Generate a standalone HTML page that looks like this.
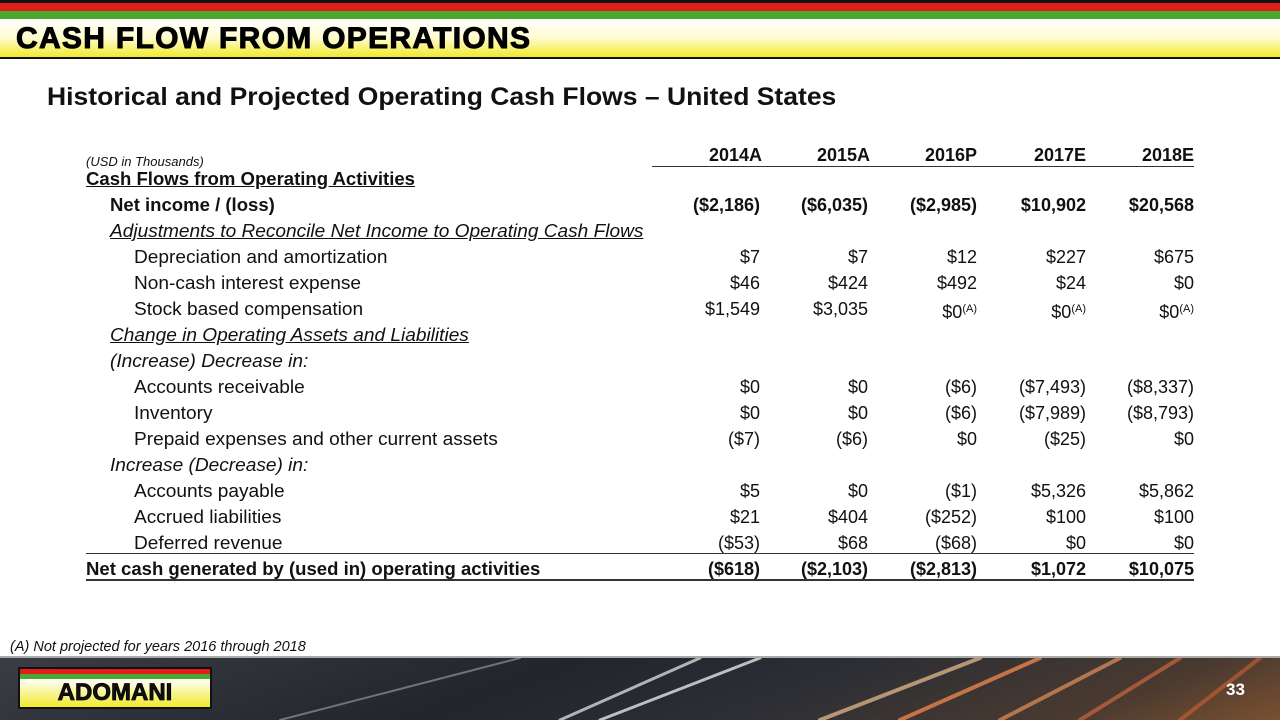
<!DOCTYPE html>
<html><head><style>
body{margin:0;width:1280px;height:720px;position:relative;overflow:hidden;background:#fff;font-family:"Liberation Sans",sans-serif;}
.a{position:absolute}
.t{position:absolute;font-size:18px;color:#111;white-space:nowrap;line-height:22px;transform-origin:left;}
.n{position:absolute;font-size:18px;color:#111;white-space:nowrap;line-height:22px;text-align:right;width:140px}
.b{font-weight:bold}
sup{font-size:11px;vertical-align:6px}
</style></head><body>
<div class="a" style="left:0;top:0;width:1280px;height:3px;background:#111"></div>
<div class="a" style="left:0;top:3px;width:1280px;height:8px;background:#e01f1c"></div>
<div class="a" style="left:0;top:11px;width:1280px;height:8px;background:#4aa82f"></div>
<div class="a" style="left:0;top:19px;width:1280px;height:38px;background:linear-gradient(#fff,#fffbd0 50%,#f2ea2a)"></div>
<div class="a" style="left:0;top:57px;width:1280px;height:2px;background:#111"></div>
<div class="a" style="left:16px;top:22px;font-size:30px;font-weight:900;letter-spacing:1.3px;-webkit-text-stroke:1px #000;color:#000">CASH FLOW FROM OPERATIONS</div>
<div class="a" style="left:47px;top:83px;font-size:25px;font-weight:bold;color:#111;transform:scaleX(1.06);transform-origin:left">Historical and Projected Operating Cash Flows – United States</div>
<div class="t" style="left:86px;top:151px;font-size:13px;font-style:italic">(USD in Thousands)</div>
<div class="a" style="left:652px;top:166px;width:542px;height:1px;background:#333"></div>
<div class="n b" style="left:622px;top:144px">2014A</div>
<div class="n b" style="left:730px;top:144px">2015A</div>
<div class="n b" style="left:837px;top:144px">2016P</div>
<div class="n b" style="left:946px;top:144px">2017E</div>
<div class="n b" style="left:1054px;top:144px">2018E</div>
<div id="rows"></div>
<div class="a" style="left:86px;top:553px;width:1108px;height:1px;background:#333"></div>
<div class="a" style="left:86px;top:579px;width:1108px;height:2px;background:#333"></div>
<div class="t" style="left:10px;top:636px;font-size:14.5px;font-style:italic">(A) Not projected for years 2016 through 2018</div>
<div class="a" style="left:0;top:656px;width:1280px;height:2px;background:#aaa"></div>
<div class="a" style="left:0;top:658px;width:1280px;height:62px;background:linear-gradient(160deg,#3a3d44,#22252b 40%,#2b2e35 60%,#4a3a30 85%,#7a5030)"></div>
<svg class="a" style="left:0;top:658px" width="1280" height="62"><g stroke-linecap="round" fill="none">
<path d="M280 62 L520 0" stroke="#bbb" stroke-width="2" opacity=".5"/>
<path d="M560 62 L700 0" stroke="#eee" stroke-width="3" opacity=".7"/>
<path d="M600 62 L760 0" stroke="#fff" stroke-width="3" opacity=".7"/>
<path d="M820 62 L980 0" stroke="#f0c090" stroke-width="4" opacity=".7"/>
<path d="M900 62 L1040 0" stroke="#ff9050" stroke-width="4" opacity=".7"/>
<path d="M1000 62 L1120 0" stroke="#ffa060" stroke-width="4" opacity=".6"/>
<path d="M1080 62 L1180 0" stroke="#e07040" stroke-width="4" opacity=".6"/>
<path d="M1180 62 L1260 0" stroke="#d06030" stroke-width="4" opacity=".6"/></g></svg>
<div class="a" style="left:18px;top:667px;width:194px;height:42px;background:#111"></div>
<div class="a" style="left:20px;top:669px;width:190px;height:5px;background:#e01f1c"></div>
<div class="a" style="left:20px;top:674px;width:190px;height:5px;background:#4aa82f"></div>
<div class="a" style="left:20px;top:679px;width:190px;height:28px;background:linear-gradient(#fff,#f2ea2a);text-align:center;font-weight:900;font-size:24px;line-height:28px;color:#111;-webkit-text-stroke:.8px #000">ADOMANI</div>
<div class="a" style="left:1226px;top:680px;font-size:17px;font-weight:bold;color:#fff">33</div>
<script>
var R=[
[180,86,"Cash Flows from Operating Activities","bu"],
[206,110,"Net income / (loss)","b",["($2,186)","($6,035)","($2,985)","$10,902","$20,568"]],
[232,110,"Adjustments to Reconcile Net Income to Operating Cash Flows","iu"],
[258,134,"Depreciation and amortization","",["$7","$7","$12","$227","$675"]],
[284,134,"Non-cash interest expense","",["$46","$424","$492","$24","$0"]],
[310,134,"Stock based compensation","",["$1,549","$3,035","$0<sup>(A)</sup>","$0<sup>(A)</sup>","$0<sup>(A)</sup>"]],
[336,110,"Change in Operating Assets and Liabilities","iu"],
[362,110,"(Increase) Decrease in:","i"],
[388,134,"Accounts receivable","",["$0","$0","($6)","($7,493)","($8,337)"]],
[414,134,"Inventory","",["$0","$0","($6)","($7,989)","($8,793)"]],
[440,134,"Prepaid expenses and other current assets","",["($7)","($6)","$0","($25)","$0"]],
[466,110,"Increase (Decrease) in:","i"],
[492,134,"Accounts payable","",["$5","$0","($1)","$5,326","$5,862"]],
[518,134,"Accrued liabilities","",["$21","$404","($252)","$100","$100"]],
[544,134,"Deferred revenue","",["($53)","$68","($68)","$0","$0"]],
[570,86,"Net cash generated by (used in) operating activities","b",["($618)","($2,103)","($2,813)","$1,072","$10,075"]]];
var X=[760,868,977,1086,1194],h="";
R.forEach(function(r){var y=r[0]-12,s="",sc=1.06;
if(r[3].indexOf("b")>=0){s+="font-weight:bold;";sc=1.03;}if(r[3].indexOf("i")>=0)s+="font-style:italic;";if(r[3].indexOf("u")>=0)s+="text-decoration:underline;";
h+='<div class="t" style="left:'+r[1]+'px;top:'+y+'px;'+s+'transform:scaleX('+sc+')">'+r[2]+'</div>';
if(r[4])r[4].forEach(function(v,i){h+='<div class="n" style="left:'+(X[i]-140)+'px;top:'+y+'px;'+s+'">'+v+'</div>';});});
document.getElementById("rows").innerHTML=h;
</script>
</body></html>
